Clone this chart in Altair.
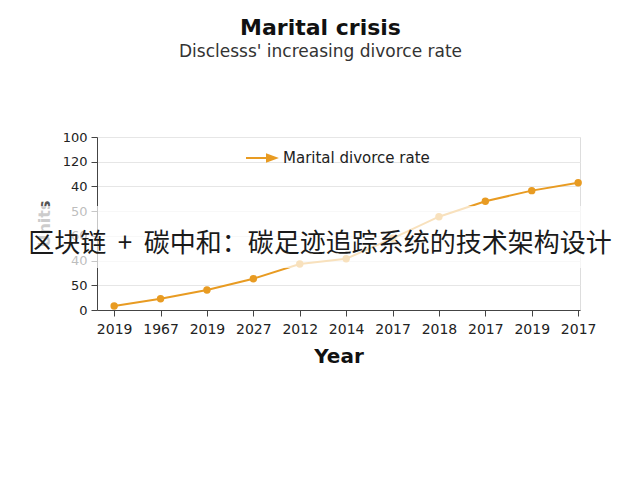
import json
import altair as alt
import pandas as pd

# ---- data ----
years = ["2019", "1967", "2019", "2027", "2012", "2014", "2017", "2018", "2017", "2019", "2017"]
values = [3.2, 9.1, 16.2, 25.3, 37.2, 41.5, 58.0, 75.5, 88.0, 96.6, 103.0]
y_tick_values = [0, 20, 40, 60, 80, 100, 120, 140]
y_tick_labels = ["0", "50", "40", "60", "50", "40", "120", "100"]
series_name = "Marital divorce rate"
title_text = "Marital crisis"
subtitle_text = "Disclesss' increasing divorce rate"
overlay_text = "区块链\u00a0\u00a0+\u00a0\u00a0碳中和：碳足迹追踪系统的技术架构设计"

df = pd.DataFrame({
    "idx": list(range(len(years))),
    "value": values,
    "series": [series_name] * len(years),
})

ORANGE = "#E89B22"
FONT = "DejaVu Sans"

x_label_expr = json.dumps(years) + "[datum.value]"
y_label_expr = json.dumps(y_tick_labels) + "[round(datum.value / 20)]"

arrow_path = "M-1,0L0.45,0M0.4,-0.22L1,0L0.4,0.22Z"

line = alt.Chart(df).mark_line(
    point=alt.OverlayMarkDef(filled=True, size=55, opacity=1),
    strokeWidth=2,
).encode(
    x=alt.X(
        "idx:Q",
        scale=alt.Scale(domain=[-0.37, 10.04], nice=False, zero=False),
        axis=alt.Axis(
            values=list(range(len(years))),
            labelExpr=x_label_expr,
            title="Year",
            grid=False,
            domainColor="#444",
            tickColor="#444",
            tickSize=6,
            labelFont=FONT,
            labelFontSize=14,
            labelColor="#222",
            labelPadding=6,
            titleFont=FONT,
            titleFontSize=20,
            titleFontWeight="bold",
            titleColor="#111",
            titlePadding=10,
        ),
    ),
    y=alt.Y(
        "value:Q",
        scale=alt.Scale(domain=[0, 140], nice=False),
        axis=alt.Axis(
            values=y_tick_values,
            labelExpr=y_label_expr,
            title="Units",
            grid=True,
            gridColor="#e6e6e6",
            domainColor="#444",
            tickColor="#444",
            tickSize=6,
            labelFont=FONT,
            labelFontSize=13,
            labelColor="#222",
            labelPadding=4,
            titleFont=FONT,
            titleFontSize=16,
            titleFontWeight="bold",
            titleColor="#555",
            titlePadding=10,
        ),
    ),
    color=alt.Color(
        "series:N",
        scale=alt.Scale(range=[ORANGE]),
        legend=alt.Legend(
            title=None,
            orient="none",
            legendX=148,
            legendY=5,
            padding=0,
            symbolType=arrow_path,
            symbolSize=900,
            symbolStrokeWidth=2,
            symbolFillColor=ORANGE,
            symbolStrokeColor=ORANGE,
            labelFont=FONT,
            labelFontSize=15,
            labelColor="#222",
            labelOffset=6,
        ),
    ),
)

overlay_df = pd.DataFrame({"t": [overlay_text]})

band = alt.Chart(overlay_df).mark_rect(color="white", opacity=0.7).encode(
    x=alt.value(-80),
    x2=alt.value(535),
    y=alt.value(69),
    y2=alt.value(131),
)

overlay = alt.Chart(overlay_df).mark_text(
    font="Noto Sans CJK SC",
    fontSize=26,
    color="#1a1a1a",
    align="center",
    baseline="middle",
).encode(
    text="t:N",
    x=alt.value(223),
    y=alt.value(107),
)

chart = alt.layer(line, band, overlay).properties(
    width=483,
    height=173,
    title=alt.TitleParams(
        text=title_text,
        subtitle=subtitle_text,
        anchor="middle",
        dx=-18,
        offset=70,
        font=FONT,
        fontSize=22,
        fontWeight="bold",
        color="#111",
        subtitleFont=FONT,
        subtitleFontSize=17,
        subtitleColor="#333",
        subtitlePadding=4,
    ),
    autosize=alt.AutoSizeParams(type="none"),
    padding={"left": 89, "top": 129, "right": 52, "bottom": 162},
).configure_view(stroke=None).configure(background="white")

chart.save("out.html", embed_options={"renderer": "svg", "actions": False})
